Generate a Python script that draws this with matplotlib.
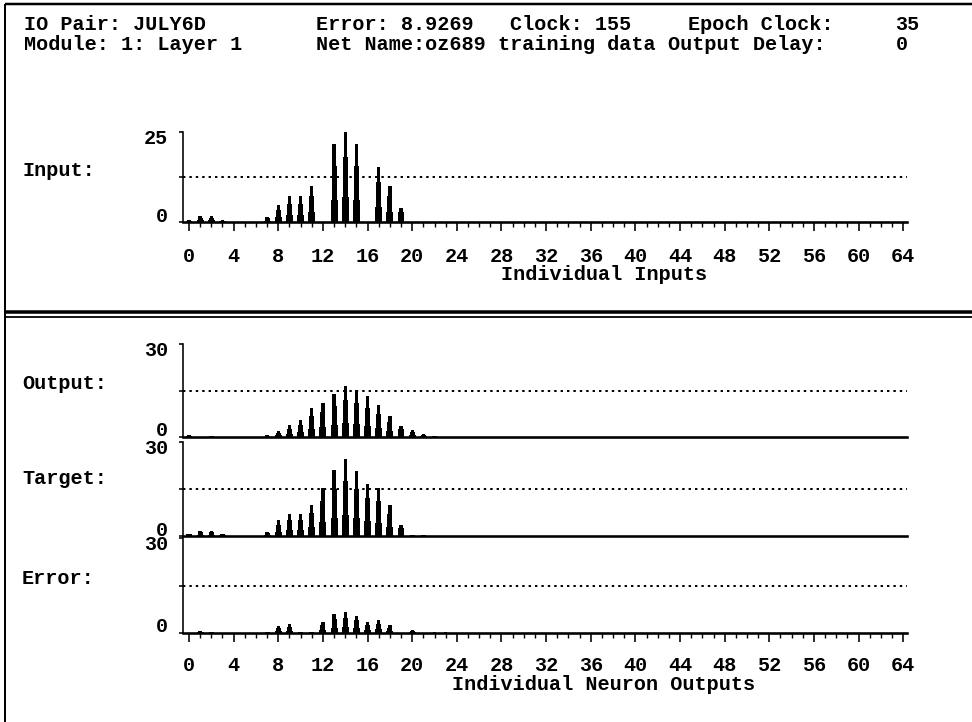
import matplotlib
matplotlib.use("Agg")
import matplotlib.pyplot as plt
from matplotlib.lines import Line2D
from matplotlib.ticker import MultipleLocator
import numpy as np

# ---- canvas -------------------------------------------------------------
W, H, DPI = 972, 722, 100
PT = 72.0 / DPI          # points per pixel

# ---- data ---------------------------------------------------------------
neurons = list(range(24))
input_values  = [0.5, 1.6, 1.6, 0.5, 0, 0, 0, 1.4, 4.6, 7.1, 7.1, 9.9,
                 0, 21.6, 25.0, 21.6, 0, 15.3, 9.9, 3.9, 0, 0, 0, 0]
output_values = [0.5, 0, 0.4, 0, 0, 0, 0, 0.5, 1.9, 3.8, 5.6, 9.2,
                 11.1, 14.0, 16.5, 15.1, 13.2, 10.2, 6.7, 3.5, 2.4, 1.1, 0.3, 0.1]
target_values = [0.7, 1.6, 1.6, 0.7, 0, 0, 0, 1.3, 5.0, 7.1, 7.1, 10.0,
                 15.4, 21.0, 24.5, 20.7, 16.7, 15.3, 9.8, 3.4, 0.4, 0.4, 0, 0]
error_values  = [0, 0.6, 0.4, 0, 0, 0, 0, 0.4, 2.1, 2.7, 0.4, 0.4,
                 3.4, 6.0, 6.6, 5.5, 3.4, 4.0, 2.4, 0, 0.8, 0, 0.2, 0.2]

x_tick_values = list(range(0, 65, 4))
input_max = 25
layer_max = 30

# header strings with their text column (80-column screen)
header_row1 = [("IO Pair: JULY6D", 2), ("Error: 8.9269", 26), ("Clock: 155", 42),
               ("Epoch Clock:", 56.6), ("35", 73.7)]
header_row2 = [("Module: 1: Layer 1", 2), ("Net Name:oz689", 26), ("training data", 41),
               ("Output Delay:", 55), ("0", 73.7)]

# ---- style --------------------------------------------------------------
FONT = dict(family=["Liberation Mono", "DejaVu Sans Mono"], weight="bold", size=14.5)
COL = 12.15               # width of one text column in pixels
X0_PX, X_SCALE = 189.0, 11.16
XMIN, XMAX = -0.55, 64.3

fig = plt.figure(figsize=(W / DPI, H / DPI), dpi=DPI)
fig.patch.set_facecolor("white")


def fx(px):
    return px / W


def fy(py):
    return 1 - py / H


def ftext(x_px, y_px, s, ha="left", va="center"):
    fig.text(fx(x_px), fy(y_px), s, ha=ha, va=va, **FONT)


def fline(xs, ys, lw_px):
    fig.add_artist(Line2D([fx(x) for x in xs], [fy(y) for y in ys],
                          transform=fig.transFigure, color="black",
                          lw=lw_px * PT, solid_capstyle="butt"))


def tiered_bars(ax, xs, values):
    v = np.asarray(values, dtype=float)
    ax.bar(xs, v, width=0.30, color="black", linewidth=0, zorder=3)
    ax.bar(xs, v * 0.72, width=0.46, color="black", linewidth=0, zorder=3)
    ax.bar(xs, v * 0.28, width=0.62, color="black", linewidth=0, zorder=3)


def add_panel(top_px, zero_px, ymax, name, name_y, values, with_scale, pad_px=16):
    left = X0_PX + XMIN * X_SCALE
    right = X0_PX + XMAX * X_SCALE
    ax = fig.add_axes([fx(left), fy(zero_px), (right - left) / W, (zero_px - top_px) / H])
    ax.set_xlim(XMIN, XMAX)
    ax.set_ylim(0, ymax)
    ax.patch.set_visible(False)
    for s in ("top", "right"):
        ax.spines[s].set_visible(False)
    ax.spines["left"].set_linewidth(1.6 * PT)
    ax.spines["bottom"].set_linewidth(2.6 * PT)
    ax.set_yticks([0, ymax / 2, ymax])
    ax.set_yticklabels([])
    ax.tick_params(axis="y", direction="out", length=4 * PT, width=1.6 * PT)
    ax.plot([XMIN, XMAX], [ymax / 2] * 2, color="black", lw=2.0 * PT,
            ls=(0, (1.2, 2.0)), clip_on=False, zorder=2)
    tiered_bars(ax, neurons, values)

    if with_scale:
        ax.set_xticks(x_tick_values)
        ax.set_xticklabels([str(v) for v in x_tick_values], **FONT)
        ax.xaxis.set_minor_locator(MultipleLocator(1))
        ax.tick_params(axis="x", which="major", direction="out", length=9 * PT,
                       width=1.6 * PT, pad=pad_px * PT)
        ax.tick_params(axis="x", which="minor", direction="out", length=5 * PT,
                       width=1.4 * PT)
    else:
        ax.tick_params(axis="x", which="both", bottom=False, labelbottom=False)

    # scale values and row name at the left
    ftext(168, top_px + 7, str(ymax), ha="right")
    ftext(168, zero_px - 6, "0", ha="right")
    ftext(22, name_y, name)
    return ax


# ---- header ------------------------------------------------------------
for s, c in header_row1:
    ftext(c * COL, 24, s)
for s, c in header_row2:
    ftext(c * COL, 44, s)

# ---- input section ------------------------------------------------------
add_panel(132, 222, input_max, "Input:", 171, input_values, True)
ftext(604, 275, "Individual Inputs", ha="center")

# ---- layer section -----------------------------------------------------
add_panel(344, 437, layer_max, "Output:", 383, output_values, False)
add_panel(442, 536, layer_max, "Target:", 479, target_values, False)
add_panel(538, 633, layer_max, "Error:", 578, error_values, True, pad_px=14)
ftext(604, 685, "Individual Neuron Outputs", ha="center")

# ---- frame -------------------------------------------------------------
fline([5, 972], [4, 4], 2.5)
fline([5, 5], [4, 722], 2.0)
fline([5, 972], [312, 312], 3.5)
fline([5, 972], [317, 317], 1.8)

fig.savefig("out.png", dpi=DPI, facecolor="white")
